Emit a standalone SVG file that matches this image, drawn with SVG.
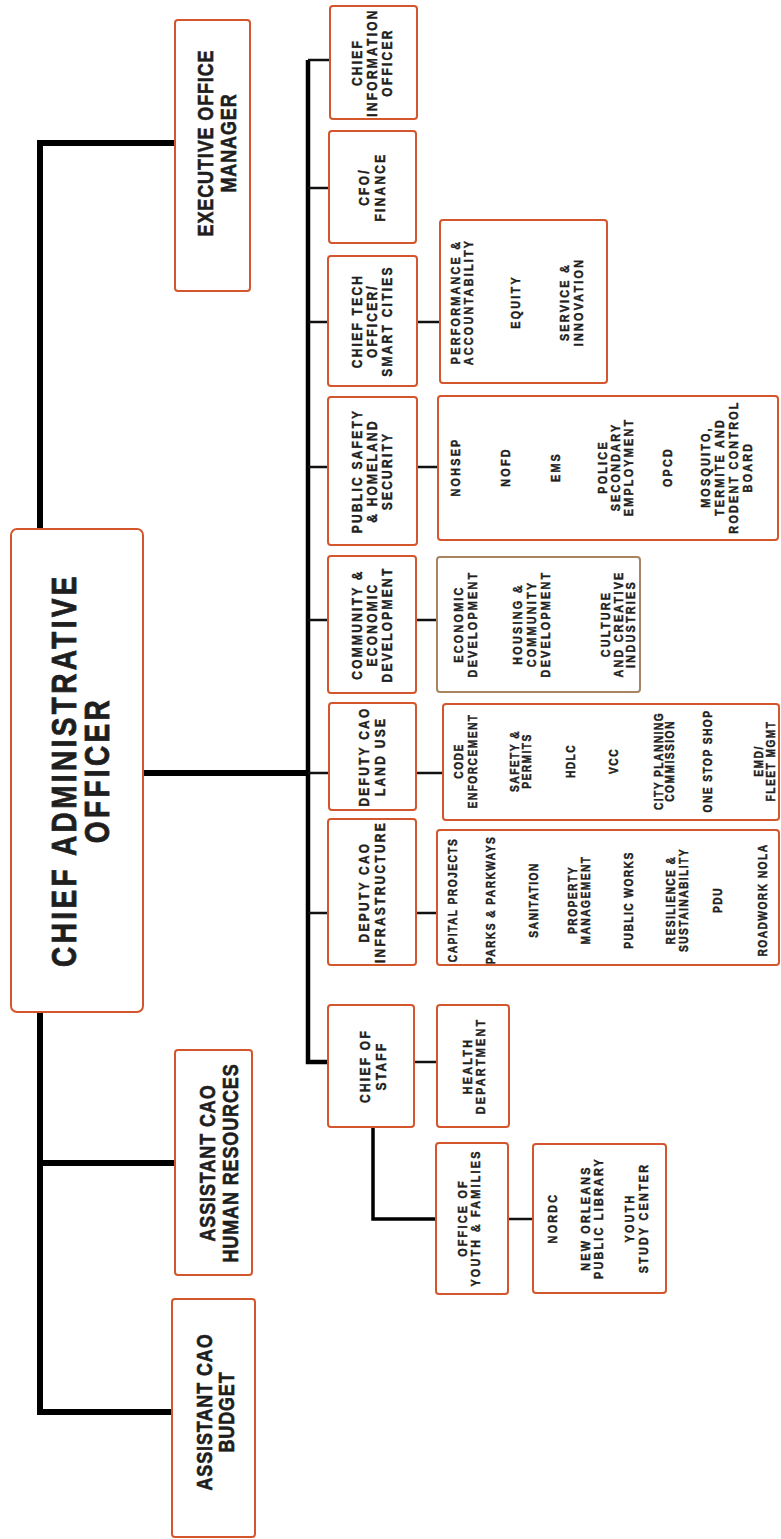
<svg xmlns="http://www.w3.org/2000/svg" width="781" height="1539" viewBox="0 0 781 1539">
<style>
.box{fill:#fff;stroke:#d4562c;stroke-width:2}
.box2{fill:#fff;stroke:#a98461;stroke-width:2}
.t{font-family:"Liberation Sans",Arial,sans-serif;font-weight:bold;fill:#1e1e1e;stroke:#1e1e1e;stroke-width:0.45;text-anchor:middle}
.big{font-size:35px;letter-spacing:4.2px;stroke-width:0.8}
.top{font-size:22.5px;letter-spacing:1.1px;stroke-width:0.6}
.col{font-size:15px;letter-spacing:2.8px}
.s{font-size:13.5px;letter-spacing:2.8px}
.s2{font-size:12.8px;letter-spacing:1.8px}
.thick{fill:none;stroke:#000;stroke-width:6}
.mid{fill:none;stroke:#000;stroke-width:4.5}
.thin{fill:none;stroke:#111;stroke-width:2.5}
</style>
<rect width="781" height="1539" fill="#fff"/>
<g id="connectors">
<path class="thick" d="M175,143 H40 V1412 H172"/>
<path class="thick" d="M40,1163 H175"/>
<path class="thick" d="M143,773 H308"/>
<path class="mid" d="M308,60 V1062 H328"/>
<path class="thin" d="M308,60 H330 M308,188 H329 M308,322 H328 M308,467 H328 M308,620 H328 M308,773 H329 M308,913 H328"/>
<path class="thin" d="M417,322 H440 M417,467 H438 M416,620 H437 M416,773 H443 M416,913 H437 M414,1062 H437 M508,1219 H533"/>
<path fill="none" stroke="#000" stroke-width="3.5" d="M373,1127 V1219 H436"/>
</g>
<g id="cao"><rect class="box" x="11" y="529" width="132" height="483" rx="6" stroke-width="3"/>
<text class="t big" transform="translate(76,770) rotate(-90) scale(.8,1)"><tspan x="0" y="0">CHIEF ADMINISTRATIVE</tspan><tspan x="0" y="33">OFFICER</tspan></text></g>
<g id="exec"><rect class="box" x="175" y="20" width="75" height="271" rx="3"/>
<text class="t top" transform="translate(213,143) rotate(-90) scale(.8,1)"><tspan x="0" y="0">EXECUTIVE OFFICE</tspan><tspan x="0" y="23">MANAGER</tspan></text></g>
<g id="hr"><rect class="box" x="175" y="1050" width="77" height="225" rx="3"/>
<text class="t top" transform="translate(215,1163) rotate(-90) scale(.8,1)"><tspan x="0" y="0">ASSISTANT CAO</tspan><tspan x="0" y="23">HUMAN RESOURCES</tspan></text></g>
<g id="budget"><rect class="box" x="172" y="1299" width="83" height="238" rx="3"/>
<text class="t top" transform="translate(212,1412) rotate(-90) scale(.8,1)"><tspan x="0" y="0">ASSISTANT CAO</tspan><tspan x="0" y="22">BUDGET</tspan></text></g>
<g id="cio"><rect class="box" x="330" y="6" width="87" height="113" rx="3"/>
<text class="t col" transform="translate(362,62.5) rotate(-90) scale(.8,1)"><tspan x="0" y="0">CHIEF</tspan><tspan x="0" y="15">INFORMATION</tspan><tspan x="0" y="30">OFFICER</tspan></text></g>
<g id="cfo"><rect class="box" x="329" y="131" width="87" height="112" rx="3"/>
<text class="t col" transform="translate(369,187) rotate(-90) scale(.8,1)"><tspan x="0" y="0">CFO/</tspan><tspan x="0" y="16">FINANCE</tspan></text></g>
<g id="cto"><rect class="box" x="328" y="256" width="89" height="130" rx="3"/>
<text class="t col" transform="translate(362,321) rotate(-90) scale(.8,1)"><tspan x="0" y="0">CHIEF TECH</tspan><tspan x="0" y="15">OFFICER/</tspan><tspan x="0" y="30">SMART CITIES</tspan></text></g>
<g id="publicsafety"><rect class="box" x="328" y="397" width="89" height="148" rx="3"/>
<text class="t col" transform="translate(362,471) rotate(-90) scale(.8,1)"><tspan x="0" y="0">PUBLIC SAFETY</tspan><tspan x="0" y="15">&amp; HOMELAND</tspan><tspan x="0" y="30">SECURITY</tspan></text></g>
<g id="community"><rect class="box" x="328" y="556" width="88" height="137" rx="3"/>
<text class="t col" transform="translate(362,624.5) rotate(-90) scale(.8,1)"><tspan x="0" y="0">COMMUNITY &amp;</tspan><tspan x="0" y="15">ECONOMIC</tspan><tspan x="0" y="30">DEVELOPMENT</tspan></text></g>
<g id="landuse"><rect class="box" x="329" y="703" width="87" height="107" rx="3"/>
<text class="t col" transform="translate(369,756.5) rotate(-90) scale(.8,1)"><tspan x="0" y="0">DEFUTY CAO</tspan><tspan x="0" y="16">LAND USE</tspan></text></g>
<g id="infrastructure"><rect class="box" x="328" y="819" width="88" height="146" rx="3"/>
<text class="t col" transform="translate(369,892) rotate(-90) scale(.8,1)"><tspan x="0" y="0">DEPUTY CAO</tspan><tspan x="0" y="16">INFRASTRUCTURE</tspan></text></g>
<g id="chiefofstaff"><rect class="box" x="328" y="1005" width="86" height="122" rx="3"/>
<text class="t col" transform="translate(370,1066) rotate(-90) scale(.8,1)"><tspan x="0" y="0">CHIEF OF</tspan><tspan x="0" y="16">STAFF</tspan></text></g>
<g id="health"><rect class="box" x="437" y="1005" width="72" height="122" rx="3"/>
<text class="t s" transform="translate(472,1066) rotate(-90) scale(.8,1)"><tspan x="0" y="0">HEALTH</tspan><tspan x="0" y="13">DEPARTMENT</tspan></text></g>
<g id="youth"><rect class="box" x="436" y="1143" width="72" height="151" rx="3"/>
<text class="t s" transform="translate(467,1218) rotate(-90) scale(.8,1)"><tspan x="0" y="0">OFFICE OF</tspan><tspan x="0" y="13">YOUTH &amp; FAMILIES</tspan></text></g>
<g id="nordc"><rect class="box" x="533" y="1144" width="133" height="149" rx="3"/>
<text class="t s" transform="translate(557,1218) rotate(-90) scale(.8,1)">NORDC</text>
<text class="t s" transform="translate(590,1218) rotate(-90) scale(.8,1)"><tspan x="0" y="0">NEW ORLEANS</tspan><tspan x="0" y="13">PUBLIC LIBRARY</tspan></text>
<text class="t s" transform="translate(634,1218) rotate(-90) scale(.8,1)"><tspan x="0" y="0">YOUTH</tspan><tspan x="0" y="14">STUDY CENTER</tspan></text></g>
<g id="performance"><rect class="box" x="440" y="220" width="167" height="163" rx="3"/>
<text class="t s" transform="translate(460,302) rotate(-90) scale(.8,1)"><tspan x="0" y="0">PERFORMANCE &amp;</tspan><tspan x="0" y="13">ACCOUNTABILITY</tspan></text>
<text class="t s" transform="translate(520,302) rotate(-90) scale(.8,1)">EQUITY</text>
<text class="t s" transform="translate(569,302) rotate(-90) scale(.8,1)"><tspan x="0" y="0">SERVICE &amp;</tspan><tspan x="0" y="14">INNOVATION</tspan></text></g>
<g id="nohsep"><rect class="box" x="438" y="396" width="340" height="144" rx="3"/>
<text class="t s" transform="translate(460,467) rotate(-90) scale(.8,1)">NOHSEP</text>
<text class="t s" transform="translate(510,467) rotate(-90) scale(.8,1)">NOFD</text>
<text class="t s" transform="translate(560,467) rotate(-90) scale(.8,1)">EMS</text>
<text class="t s" transform="translate(607,467) rotate(-90) scale(.8,1)"><tspan x="0" y="0">POLICE</tspan><tspan x="0" y="13">SECONDARY</tspan><tspan x="0" y="26">EMPLOYMENT</tspan></text>
<text class="t s" transform="translate(672,467) rotate(-90) scale(.8,1)">OPCD</text>
<text class="t s" transform="translate(710,467) rotate(-90) scale(.8,1)"><tspan x="0" y="0">MOSQUITO,</tspan><tspan x="0" y="14">TERMITE AND</tspan><tspan x="0" y="28">RODENT CONTROL</tspan><tspan x="0" y="42">BOARD</tspan></text></g>
<g id="economic"><rect class="box2" x="437" y="557" width="203" height="135" rx="3"/>
<text class="t s" transform="translate(463,624) rotate(-90) scale(.8,1)"><tspan x="0" y="0">ECONOMIC</tspan><tspan x="0" y="14">DEVELOPMENT</tspan></text>
<text class="t s" transform="translate(522,624) rotate(-90) scale(.8,1)"><tspan x="0" y="0">HOUSING &amp;</tspan><tspan x="0" y="14">COMMUNITY</tspan><tspan x="0" y="28">DEVELOPMENT</tspan></text>
<text class="t s" transform="translate(610,624) rotate(-90) scale(.8,1)"><tspan x="0" y="0">CULTURE</tspan><tspan x="0" y="13">AND CREATIVE</tspan><tspan x="0" y="25">INDUSTRIES</tspan></text></g>
<g id="codeenforcement"><rect class="box" x="443" y="704" width="336" height="116" rx="3"/>
<text class="t s2" transform="translate(463,761) rotate(-90) scale(.8,1)"><tspan x="0" y="0">CODE</tspan><tspan x="0" y="14">ENFORCEMENT</tspan></text>
<text class="t s2" transform="translate(519,761) rotate(-90) scale(.8,1)"><tspan x="0" y="0">SAFETY &amp;</tspan><tspan x="0" y="12">PERMITS</tspan></text>
<text class="t s2" transform="translate(575,761) rotate(-90) scale(.8,1)">HDLC</text>
<text class="t s2" transform="translate(618,761) rotate(-90) scale(.8,1)">VCC</text>
<text class="t s2" transform="translate(663,761) rotate(-90) scale(.8,1)"><tspan x="0" y="0">CITY PLANNING</tspan><tspan x="0" y="11">COMMISSION</tspan></text>
<text class="t s2" transform="translate(712,761) rotate(-90) scale(.8,1)">ONE STOP SHOP</text>
<text class="t s2" transform="translate(763,761) rotate(-90) scale(.8,1)"><tspan x="0" y="0">EMD/</tspan><tspan x="0" y="12">FLEET MGMT</tspan></text></g>
<g id="infrasub"><rect class="box" x="437" y="830" width="342" height="135" rx="3"/>
<text class="t s2" transform="translate(457,900) rotate(-90) scale(.8,1)">CAPITAL PROJECTS</text>
<text class="t s2" transform="translate(495,900) rotate(-90) scale(.8,1)">PARKS &amp; PARKWAYS</text>
<text class="t s2" transform="translate(538,900) rotate(-90) scale(.8,1)">SANITATION</text>
<text class="t s2" transform="translate(577,900) rotate(-90) scale(.8,1)"><tspan x="0" y="0">PROPERTY</tspan><tspan x="0" y="13">MANAGEMENT</tspan></text>
<text class="t s2" transform="translate(633,900) rotate(-90) scale(.8,1)">PUBLIC WORKS</text>
<text class="t s2" transform="translate(675,900) rotate(-90) scale(.8,1)"><tspan x="0" y="0">RESILIENCE &amp;</tspan><tspan x="0" y="13">SUSTAINABILITY</tspan></text>
<text class="t s2" transform="translate(722,900) rotate(-90) scale(.8,1)">PDU</text>
<text class="t s2" transform="translate(767,900) rotate(-90) scale(.8,1)">ROADWORK NOLA</text></g>
</svg>
